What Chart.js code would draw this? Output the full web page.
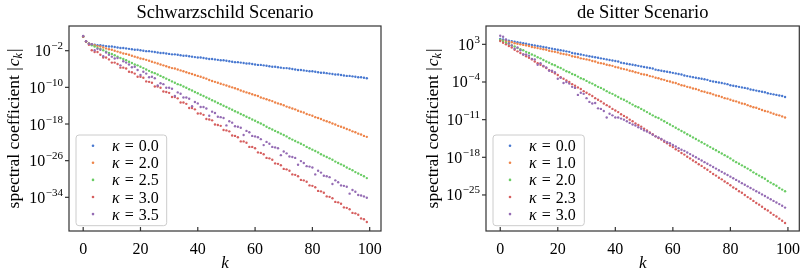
<!DOCTYPE html>
<html>
<head>
<meta charset="utf-8">
<script src="https://cdn.jsdelivr.net/npm/chart.js@4.4.0/dist/chart.umd.min.js"></script>
<style>
html, body { margin: 0; padding: 0; background: #fff; }
#wrap { display: flex; width: 804px; height: 276px; }
canvas { display: block; }
</style>
</head>
<body>
<div id="wrap">
  <canvas id="leftChart" width="402" height="276"></canvas>
  <canvas id="rightChart" width="402" height="276"></canvas>
</div>
<script>
// k index 0..99
const kValues = Array.from({ length: 100 }, (_, i) => i);

// log10 |c_k|, Schwarzschild scenario
const schwKappa = ['0.0', '2.0', '2.5', '3.0', '3.5'];
const schwK00 = [1.1, 0.0, -0.5, -0.6, -0.7, -0.8, -0.8, -0.9, -1.0, -1.1,
  -1.1, -1.2, -1.3, -1.4, -1.4, -1.5, -1.6, -1.7, -1.8, -1.8,
  -1.9, -2.0, -2.1, -2.1, -2.2, -2.3, -2.4, -2.5, -2.5, -2.6,
  -2.7, -2.8, -2.8, -2.9, -3.0, -3.1, -3.1, -3.2, -3.3, -3.4,
  -3.5, -3.5, -3.6, -3.7, -3.8, -3.8, -3.9, -4.0, -4.1, -4.1,
  -4.2, -4.3, -4.4, -4.5, -4.5, -4.6, -4.7, -4.8, -4.8, -4.9,
  -5.0, -5.1, -5.1, -5.2, -5.3, -5.4, -5.5, -5.5, -5.6, -5.7,
  -5.8, -5.8, -5.9, -6.0, -6.1, -6.2, -6.2, -6.3, -6.4, -6.5,
  -6.5, -6.6, -6.7, -6.8, -6.8, -6.9, -7.0, -7.1, -7.2, -7.2,
  -7.3, -7.4, -7.5, -7.5, -7.6, -7.7, -7.8, -7.8, -7.9, -8.0];
const schwK20 = [1.1, 0.0, -0.4, -0.6, -0.8, -1.0, -1.1, -1.3, -1.5, -1.7,
  -1.8, -2.0, -2.2, -2.4, -2.6, -2.7, -2.9, -3.1, -3.3, -3.5,
  -3.7, -3.8, -4.0, -4.2, -4.4, -4.6, -4.8, -5.0, -5.2, -5.4,
  -5.6, -5.8, -5.9, -6.1, -6.3, -6.5, -6.7, -6.9, -7.1, -7.3,
  -7.5, -7.7, -7.9, -8.1, -8.4, -8.6, -8.8, -9.0, -9.2, -9.4,
  -9.6, -9.8, -10.0, -10.2, -10.4, -10.7, -10.9, -11.1, -11.3, -11.5,
  -11.7, -11.9, -12.2, -12.4, -12.6, -12.8, -13.0, -13.3, -13.5, -13.7,
  -13.9, -14.2, -14.4, -14.6, -14.8, -15.1, -15.3, -15.5, -15.8, -16.0,
  -16.2, -16.5, -16.7, -16.9, -17.2, -17.4, -17.6, -17.9, -18.1, -18.4,
  -18.6, -18.8, -19.1, -19.3, -19.6, -19.8, -20.1, -20.3, -20.6, -20.8];
const schwK25 = [1.1, 0.0, -0.5, -0.8, -1.1, -1.4, -1.6, -1.9, -2.2, -2.5,
  -2.7, -3.0, -3.3, -3.6, -3.8, -4.1, -4.4, -4.7, -5.0, -5.2,
  -5.5, -5.8, -6.1, -6.4, -6.7, -6.9, -7.2, -7.5, -7.8, -8.1,
  -8.4, -8.7, -9.0, -9.3, -9.5, -9.8, -10.1, -10.4, -10.7, -11.0,
  -11.3, -11.6, -11.9, -12.2, -12.5, -12.8, -13.1, -13.4, -13.7, -14.0,
  -14.3, -14.6, -14.9, -15.2, -15.5, -15.8, -16.1, -16.4, -16.7, -17.0,
  -17.3, -17.6, -17.9, -18.2, -18.6, -18.9, -19.2, -19.5, -19.8, -20.1,
  -20.4, -20.7, -21.1, -21.4, -21.7, -22.0, -22.3, -22.6, -23.0, -23.3,
  -23.6, -23.9, -24.2, -24.6, -24.9, -25.2, -25.5, -25.8, -26.2, -26.5,
  -26.8, -27.1, -27.5, -27.8, -28.1, -28.5, -28.8, -29.1, -29.4, -29.8];
const schwK30 = [1.1, 0.0, -0.7, -1.9, -2.3, -2.3, -2.9, -3.5, -3.5, -3.9,
  -4.6, -4.6, -4.9, -5.7, -5.7, -5.9, -6.6, -6.7, -7.0, -7.7,
  -7.7, -7.9, -8.7, -8.8, -9.0, -9.8, -9.8, -10.1, -10.9, -11.0,
  -11.2, -12.1, -12.1, -12.4, -13.3, -13.3, -13.6, -14.5, -14.5, -14.8,
  -15.7, -15.7, -16.0, -16.9, -17.0, -17.2, -18.1, -18.2, -18.4, -19.3,
  -19.4, -19.6, -20.5, -20.6, -20.9, -21.8, -21.8, -22.1, -23.0, -23.0,
  -23.3, -24.2, -24.3, -24.6, -25.4, -25.5, -25.8, -26.6, -26.7, -27.0,
  -27.8, -27.9, -28.2, -29.0, -29.1, -29.4, -30.2, -30.3, -30.6, -31.4,
  -31.5, -31.8, -32.6, -32.7, -33.0, -33.8, -33.9, -34.2, -35.0, -35.1,
  -35.4, -36.2, -36.3, -36.6, -37.4, -37.5, -37.8, -38.6, -38.8, -39.4];
const schwK35 = [1.2, 0.05, -0.5, -0.6, -1.9, -1.6, -1.8, -3.2, -2.4, -2.9,
  -3.3, -3.7, -3.6, -5.2, -4.3, -4.6, -5.0, -5.6, -5.5, -6.2,
  -7.3, -6.6, -7.0, -7.8, -7.7, -8.0, -9.6, -9.1, -9.3, -10.1,
  -10.1, -10.3, -11.9, -11.1, -11.4, -12.2, -12.2, -12.5, -14.1, -13.2,
  -13.5, -14.3, -14.3, -14.6, -16.2, -15.3, -15.6, -16.4, -16.5, -16.7,
  -18.3, -17.4, -17.7, -18.5, -18.6, -18.8, -20.4, -19.5, -19.8, -20.6,
  -20.7, -20.9, -21.3, -22.6, -21.9, -22.3, -23.0, -23.1, -23.3, -24.8,
  -24.0, -24.4, -25.1, -25.2, -25.4, -26.9, -26.1, -26.5, -27.2, -27.3,
  -27.5, -29.0, -28.2, -28.6, -29.3, -29.4, -29.6, -31.1, -30.3, -30.7,
  -31.4, -31.5, -31.7, -33.2, -32.4, -32.8, -33.5, -33.6, -33.8, -34.1];

// log10 |c_k|, de Sitter scenario
const dsKappa = ['0.0', '1.0', '2.0', '2.3', '3.0'];
const dsK00 = [4.0, 3.9, 3.8, 3.7, 3.6, 3.5, 3.4, 3.3, 3.2, 3.1,
  3.0, 2.9, 2.8, 2.7, 2.6, 2.5, 2.4, 2.3, 2.2, 2.1,
  2.0, 1.9, 1.8, 1.7, 1.6, 1.4, 1.3, 1.2, 1.1, 1.0,
  0.9, 0.8, 0.7, 0.6, 0.5, 0.4, 0.3, 0.2, 0.1, 0.0,
  -0.1, -0.2, -0.4, -0.5, -0.6, -0.7, -0.8, -0.9, -1.0, -1.1,
  -1.2, -1.3, -1.4, -1.5, -1.7, -1.8, -1.9, -2.0, -2.1, -2.2,
  -2.3, -2.4, -2.5, -2.6, -2.8, -2.9, -3.0, -3.1, -3.2, -3.3,
  -3.4, -3.5, -3.6, -3.8, -3.9, -4.0, -4.1, -4.2, -4.3, -4.4,
  -4.6, -4.7, -4.8, -4.9, -5.0, -5.1, -5.2, -5.4, -5.5, -5.6,
  -5.7, -5.8, -5.9, -6.1, -6.2, -6.3, -6.4, -6.5, -6.6, -6.8];
const dsK10 = [3.8, 3.7, 3.6, 3.5, 3.4, 3.2, 3.1, 3.0, 2.9, 2.8,
  2.7, 2.5, 2.4, 2.3, 2.2, 2.1, 2.0, 1.8, 1.7, 1.6,
  1.5, 1.3, 1.2, 1.1, 1.0, 0.8, 0.7, 0.6, 0.4, 0.3,
  0.2, 0.1, -0.1, -0.2, -0.4, -0.5, -0.6, -0.8, -0.9, -1.0,
  -1.2, -1.3, -1.5, -1.6, -1.7, -1.9, -2.0, -2.2, -2.3, -2.5,
  -2.6, -2.7, -2.9, -3.0, -3.2, -3.3, -3.5, -3.6, -3.8, -3.9,
  -4.1, -4.2, -4.4, -4.6, -4.7, -4.9, -5.0, -5.2, -5.3, -5.5,
  -5.7, -5.8, -6.0, -6.1, -6.3, -6.5, -6.6, -6.8, -7.0, -7.1,
  -7.3, -7.5, -7.6, -7.8, -8.0, -8.1, -8.3, -8.5, -8.7, -8.8,
  -9.0, -9.2, -9.4, -9.5, -9.7, -9.9, -10.1, -10.2, -10.4, -10.6];
const dsK20 = [3.8, 3.6, 3.3, 3.1, 2.8, 2.6, 2.3, 2.1, 1.9, 1.6,
  1.4, 1.1, 0.9, 0.6, 0.4, 0.1, -0.2, -0.4, -0.7, -0.9,
  -1.2, -1.4, -1.7, -2.0, -2.2, -2.5, -2.7, -3.0, -3.3, -3.5,
  -3.8, -4.1, -4.3, -4.6, -4.9, -5.1, -5.4, -5.7, -6.0, -6.2,
  -6.5, -6.8, -7.1, -7.3, -7.6, -7.9, -8.2, -8.5, -8.7, -9.0,
  -9.3, -9.6, -9.9, -10.2, -10.5, -10.7, -11.0, -11.3, -11.6, -11.9,
  -12.2, -12.5, -12.8, -13.1, -13.4, -13.7, -14.0, -14.3, -14.6, -14.9,
  -15.2, -15.5, -15.8, -16.1, -16.4, -16.7, -17.0, -17.3, -17.6, -17.9,
  -18.2, -18.6, -18.9, -19.2, -19.5, -19.8, -20.1, -20.4, -20.8, -21.1,
  -21.4, -21.7, -22.0, -22.4, -22.7, -23.0, -23.3, -23.7, -24.0, -24.3];
const dsK23 = [3.6, 3.3, 3.0, 2.7, 2.4, 2.0, 1.7, 1.4, 1.1, 0.8,
  0.5, 0.2, -0.2, -0.5, -0.8, -1.1, -1.4, -1.8, -2.1, -2.4,
  -2.7, -3.1, -3.4, -3.7, -4.0, -4.4, -4.7, -5.0, -5.3, -5.7,
  -6.0, -6.3, -6.6, -7.0, -7.3, -7.6, -8.0, -8.3, -8.6, -9.0,
  -9.3, -9.6, -10.0, -10.3, -10.6, -11.0, -11.3, -11.7, -12.0, -12.3,
  -12.7, -13.0, -13.4, -13.7, -14.1, -14.4, -14.7, -15.1, -15.4, -15.8,
  -16.1, -16.5, -16.8, -17.2, -17.5, -17.9, -18.2, -18.6, -18.9, -19.3,
  -19.6, -20.0, -20.3, -20.7, -21.1, -21.4, -21.8, -22.1, -22.5, -22.8,
  -23.2, -23.6, -23.9, -24.3, -24.6, -25.0, -25.4, -25.7, -26.1, -26.5,
  -26.8, -27.2, -27.6, -27.9, -28.3, -28.7, -29.0, -29.4, -29.8, -30.2];
const dsK30 = [4.6, 4.4, 3.9, 3.2, 2.8, 2.2, 2.4, 1.9, 1.1, 1.1,
  0.9, 0.3, 0.2, -0.8, -0.5, -1.0, -1.3, -1.9, -1.9, -2.2,
  -3.4, -3.2, -4.2, -4.0, -4.3, -4.9, -5.1, -6.4, -6.0, -6.2,
  -7.0, -7.7, -8.0, -7.9, -8.9, -9.0, -9.4, -10.6, -9.9, -10.2,
  -10.6, -10.6, -10.8, -11.0, -11.3, -11.6, -11.9, -12.1, -12.4, -12.7,
  -13.0, -13.2, -13.5, -13.8, -14.1, -14.3, -14.6, -14.9, -15.2, -15.4,
  -15.7, -16.0, -16.3, -16.6, -16.8, -17.1, -17.4, -17.7, -18.0, -18.3,
  -18.6, -18.9, -19.2, -19.5, -19.8, -20.1, -20.4, -20.7, -21.0, -21.3,
  -21.6, -21.9, -22.2, -22.5, -22.8, -23.1, -23.4, -23.7, -24.0, -24.3,
  -24.6, -24.9, -25.2, -25.5, -25.8, -26.1, -26.4, -26.7, -27.0, -27.35];

// tick labels
const kTicks = [0, 20, 40, 60, 80, 100];
const schwTickExp = [-2, -10, -18, -26, -34];
const dsTickExp = [3, -4, -11, -18, -25];

const colors = ['#4878d0', '#ee854a', '#6acc64', '#d65f5f', '#956cb4'];
const serif = "'Liberation Serif', 'DejaVu Serif', serif";

function toPoints(exps) {
  return exps.map((e, i) => ({ x: kValues[i], y: Math.pow(10, e) }));
}

function drawParts(ctx, parts, x, y) {
  // parts drawn left to right from x on baseline y
  let cx = x;
  parts.forEach(p => {
    ctx.font = p.font;
    cx += p.gap || 0;
    ctx.fillText(p.t, cx, y + (p.dy || 0));
    cx += ctx.measureText(p.t).width;
  });
}
function partsWidth(ctx, parts) {
  let w = 0;
  parts.forEach(p => { ctx.font = p.font; w += ctx.measureText(p.t).width + (p.gap || 0); });
  return w;
}

const decor = {
  id: 'decor',
  afterDraw(chart, args, o) {
    const ctx = chart.ctx;
    const a = chart.chartArea;
    const xs = chart.scales.x, ys = chart.scales.y;
    ctx.save();
    ctx.fillStyle = '#000';
    ctx.strokeStyle = '#333';
    ctx.lineWidth = 1.2;
    ctx.textBaseline = 'alphabetic';

    // frame
    ctx.strokeRect(a.left, a.top, a.right - a.left, a.bottom - a.top);

    // x ticks (inward) + labels
    ctx.textAlign = 'left';
    kTicks.forEach(v => {
      const x = xs.getPixelForValue(v);
      ctx.beginPath();
      ctx.moveTo(x, a.bottom);
      ctx.lineTo(x, a.bottom - 4);
      ctx.stroke();
      ctx.font = '16px ' + serif;
      const t = String(v);
      const w = ctx.measureText(t).width;
      ctx.fillText(t, x - w / 2, a.bottom + 22.5);
    });

    // y ticks (outward) + 10^n labels
    o.tickExp.forEach(p => {
      const y = ys.getPixelForValue(Math.pow(10, p));
      ctx.beginPath();
      ctx.moveTo(a.left, y);
      ctx.lineTo(a.left - 4, y);
      ctx.stroke();
      const parts = [
        { t: '10', font: '16px ' + serif },
        { t: (p < 0 ? '\u2212' : '') + Math.abs(p), font: '11px ' + serif, dy: -7, gap: 0.5 }
      ];
      const w = partsWidth(ctx, parts);
      drawParts(ctx, parts, a.left - 6 - w, y + 5.5);
    });

    // title
    ctx.font = '18.5px ' + serif;
    const tw = ctx.measureText(o.title).width;
    ctx.fillText(o.title, (a.left + a.right) / 2 - tw / 2, 18);

    // x axis label
    ctx.font = 'italic 17px ' + serif;
    const kw = ctx.measureText('k').width;
    ctx.fillText('k', (a.left + a.right) / 2 - kw / 2, 268);

    // y axis label, rotated
    const yl = [
      { t: 'spectral coefficient |', font: '17.5px ' + serif },
      { t: 'c', font: 'italic 17.5px ' + serif, gap: 1 },
      { t: 'k', font: 'italic 12px ' + serif, dy: 3 },
      { t: '|', font: '17.5px ' + serif, gap: 1 }
    ];
    ctx.save();
    ctx.translate(o.yLabelX, (a.top + a.bottom) / 2);
    ctx.rotate(-Math.PI / 2);
    drawParts(ctx, yl, -partsWidth(ctx, yl) / 2, 5.5);
    ctx.restore();

    // legend
    const lx = a.left + 7, lw = o.legendW, lh = 90.7, ly = a.bottom - 5.3 - lh;
    ctx.beginPath();
    ctx.roundRect(lx, ly, lw, lh, 3);
    ctx.fillStyle = 'rgba(255,255,255,0.8)';
    ctx.fill();
    ctx.strokeStyle = '#cccccc';
    ctx.lineWidth = 1;
    ctx.stroke();
    chart.data.datasets.forEach((ds, i) => {
      const ry = ly + 10.7 + i * 17.1;
      ctx.fillStyle = ds.backgroundColor;
      ctx.beginPath();
      ctx.arc(lx + 17, ry, 1.3, 0, Math.PI * 2);
      ctx.fill();
      ctx.fillStyle = '#000';
      drawParts(ctx, [
        { t: '\u03ba', font: 'italic 16px ' + serif },
        { t: '=', font: '16px ' + serif, gap: 5 },
        { t: ds.kappa, font: '16px ' + serif, gap: 5 }
      ], lx + 36, ry + 5.5);
    });
    ctx.restore();
  }
};

function makeChart(id, series, kappas, yMinExp, yMaxExp, pad, deco) {
  const datasets = series.map((s, i) => ({
    label: '\u03ba = ' + kappas[i],
    kappa: kappas[i],
    data: toPoints(s),
    backgroundColor: colors[i],
    borderColor: colors[i],
    pointRadius: 1.2,
    pointBorderWidth: 0,
    order: series.length - i
  }));
  return new Chart(document.getElementById(id), {
    type: 'scatter',
    data: { datasets: datasets },
    options: {
      responsive: false,
      animation: false,
      layout: { padding: pad },
      plugins: { legend: { display: false }, tooltip: { enabled: false }, decor: deco },
      scales: {
        x: { type: 'linear', min: -4.95, max: 103.95, display: false },
        y: { type: 'logarithmic', min: Math.pow(10, yMinExp), max: Math.pow(10, yMaxExp), bounds: 'data', display: false }
      }
    },
    plugins: [decor]
  });
}

makeChart('leftChart', [schwK00, schwK20, schwK25, schwK30, schwK35], schwKappa, -41.35, 3.39,
  { left: 69, right: 21, top: 26, bottom: 45 },
  { title: 'Schwarzschild Scenario', tickExp: schwTickExp, yLabelX: 13, legendW: 90.7 });

makeChart('rightChart', [dsK00, dsK10, dsK20, dsK23, dsK30], dsKappa, -31.7, 6.41,
  { left: 84, right: 4.7, top: 26, bottom: 45 },
  { title: 'de Sitter Scenario', tickExp: dsTickExp, yLabelX: 30, legendW: 91.3 });
</script>
</body>
</html>
